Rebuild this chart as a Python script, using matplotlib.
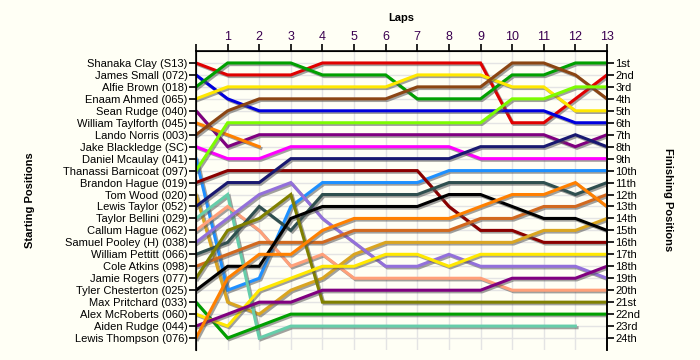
import numpy as np
import matplotlib.pyplot as plt
import matplotlib.patheffects as pe

plt.rcParams['font.family'] = ['Liberation Sans', 'DejaVu Sans']

laps = list(range(14))

drivers = ['Shanaka Clay (S13)', 'James Small (072)', 'Alfie Brown (018)', 'Enaam Ahmed (065)',
           'Sean Rudge (040)', 'William Taylforth (045)', 'Lando Norris (003)', 'Jake Blackledge (SC)',
           'Daniel Mcaulay (041)', 'Thanassi Barnicoat (097)', 'Brandon Hague (019)', 'Tom Wood (020)',
           'Lewis Taylor (052)', 'Taylor Bellini (029)', 'Callum Hague (062)', 'Samuel Pooley (H) (038)',
           'William Pettitt (066)', 'Cole Atkins (098)', 'Jamie Rogers (077)', 'Tyler Chesterton (025)',
           'Max Pritchard (033)', 'Alex McRoberts (060)', 'Aiden Rudge (044)', 'Lewis Thompson (076)']

finish_labels = ['1st', '2nd', '3rd'] + [f'{i}th' for i in range(4, 21)] + ['21st', '22nd', '23rd', '24th']

colors = ['#E00000', '#0000DD', '#00A000', '#FFE800', '#800080', '#FF8000', '#8B4513', '#FF00FF',
          '#1E90FF', '#7CFC00', '#8B0000', '#DAA520', '#191970', '#66CDAA', '#FFA07A', '#9370DB',
          '#2F4F4F', '#D2691E', '#808000', '#000000', '#00A000', '#FFE800', '#800080', '#FF8000']

# position of each driver after every lap (None = retired)
shanaka_clay = [1, 2, 2, 2, 1, 1, 1, 1, 1, 1, 6, 6, 4, 2]
james_small = [2, 4, 5, 5, 5, 5, 5, 5, 5, 5, 5, 5, 6, 6]
alfie_brown = [3, 1, 1, 1, 2, 2, 2, 4, 4, 4, 2, 2, 1, 1]
enaam_ahmed = [4, 3, 3, 3, 3, 3, 3, 2, 2, 2, 3, 3, 5, 5]
sean_rudge = [5, 8, 7, 7, 7, 7, 7, 7, 7, 7, 7, 7, 8, 7]
william_taylforth = [6, 7, 8] + [None] * 11
lando_norris = [7, 5, 4, 4, 4, 4, 4, 3, 3, 3, 1, 1, 2, 4]
jake_blackledge = [8, 9, 9, 8, 8, 8, 8, 8, 8, 9, 9, 9, 9, 9]
daniel_mcaulay = [9, 20, 19, 13, 11, 11, 11, 11, 10, 10, 10, 10, 10, 10]
thanassi_barnicoat = [10, 6, 6, 6, 6, 6, 6, 6, 6, 6, 4, 4, 3, 3]
brandon_hague = [11, 10, 10, 10, 10, 10, 10, 10, 13, 15, 15, 16, 16, 16]
tom_wood = [12, 21, 22, 20, 19, 17, 16, 16, 16, 16, 16, 15, 15, 14]
lewis_taylor = [13, 11, 11, 9, 9, 9, 9, 9, 9, 8, 8, 8, 7, 8]
taylor_bellini = [14, 12, 24, 23, 23, 23, 23, 23, 23, 23, 23, 23, 23, None]
callum_hague = [15, 13, 15, 18, 17, 19, 19, 19, 19, 19, 20, 20, 20, 20]
samuel_pooley = [16, 14, 12, 11, 14, 16, 18, 18, 17, 18, 18, 18, 18, 19]
william_pettitt = [17, 16, 13, 15, 12, 12, 12, 12, 11, 11, 11, 11, 12, 11]
cole_atkins = [18, 17, 16, 16, 16, 15, 15, 15, 15, 14, 14, 13, 13, 12]
jamie_rogers = [19, 15, 14, 12, 21, 21, 21, 21, 21, 21, 21, 21, 21, 21]
tyler_chesterton = [20, 18, 18, 14, 13, 13, 13, 13, 12, 12, 13, 14, 14, 15]
max_pritchard = [21, 24, 23, 22, 22, 22, 22, 22, 22, 22, 22, 22, 22, 22]
alex_mcroberts = [22, 23, 20, 19, 18, 18, 17, 17, 18, 17, 17, 17, 17, 17]
aiden_rudge = [23, 22, 21, 21, 20, 20, 20, 20, 20, 20, 19, 19, 19, 18]
lewis_thompson = [24, 19, 17, 17, 15, 14, 14, 14, 14, 13, 12, 12, 11, 13]

positions = [shanaka_clay, james_small, alfie_brown, enaam_ahmed, sean_rudge, william_taylforth,
             lando_norris, jake_blackledge, daniel_mcaulay, thanassi_barnicoat, brandon_hague, tom_wood,
             lewis_taylor, taylor_bellini, callum_hague, samuel_pooley, william_pettitt, cole_atkins,
             jamie_rogers, tyler_chesterton, max_pritchard, alex_mcroberts, aiden_rudge, lewis_thompson]

bg = '#FFFFF5'
fig = plt.figure(figsize=(7, 3.6), dpi=100, facecolor=bg)
ax = fig.add_axes([196 / 700, 1 - 350 / 360, (607 - 196) / 700, 299 / 360])
ax.set_facecolor(bg)

n = len(drivers)
ax.set_xlim(0, 13)
ax.set_ylim(25, 0)

# grid
for x in laps:
    ax.axvline(x, color='#E4E4E4', lw=1, zorder=0)
for y in range(1, n + 1):
    ax.axhline(y, color='#E4E4E4', lw=1, zorder=0)

shadow = [pe.SimpleLineShadow(offset=(1.2, -1.2), shadow_color='#555555', alpha=0.55), pe.Normal()]
for pos, c in zip(positions, colors):
    y = np.array([np.nan if p is None else p for p in pos], dtype=float)
    ax.plot(laps, y, color=c, lw=2.2, solid_joinstyle='miter', path_effects=shadow, zorder=3)

# axes and ticks
ax.spines['bottom'].set_visible(False)
for s in ('top', 'left', 'right'):
    ax.spines[s].set_linewidth(1.2)
ax.xaxis.tick_top()
ax.set_xticks(laps)
ax.set_xticklabels([''] + [str(i) for i in laps[1:]], fontsize=9, color='#3A0050')
ax.tick_params(axis='x', length=5, width=1.2, pad=1)
ax.set_yticks(range(1, n + 1))
ax.set_yticklabels(drivers, fontsize=8)
ax.tick_params(axis='y', length=5, width=1.2, pad=1)

ax2 = ax.twinx()
ax2.set_ylim(25, 0)
ax2.set_yticks(range(1, n + 1))
ax2.set_yticklabels(finish_labels, fontsize=8)
ax2.tick_params(axis='y', length=5, width=1.2, pad=1)
ax2.spines['bottom'].set_visible(False)
ax2.spines['right'].set_linewidth(1.2)

fig.text(401 / 700, 1 - 18 / 360, 'Laps', ha='center', va='center', fontsize=8, fontweight='bold')
fig.text(30 / 700, 1 - 200 / 360, 'Starting Positions', ha='center', va='center',
         rotation=90, fontsize=8, fontweight='bold')
fig.text(668 / 700, 1 - 200 / 360, 'Finishing Positions', ha='center', va='center',
         rotation=270, fontsize=8, fontweight='bold')

fig.savefig('out.png', dpi=100, facecolor=bg)
